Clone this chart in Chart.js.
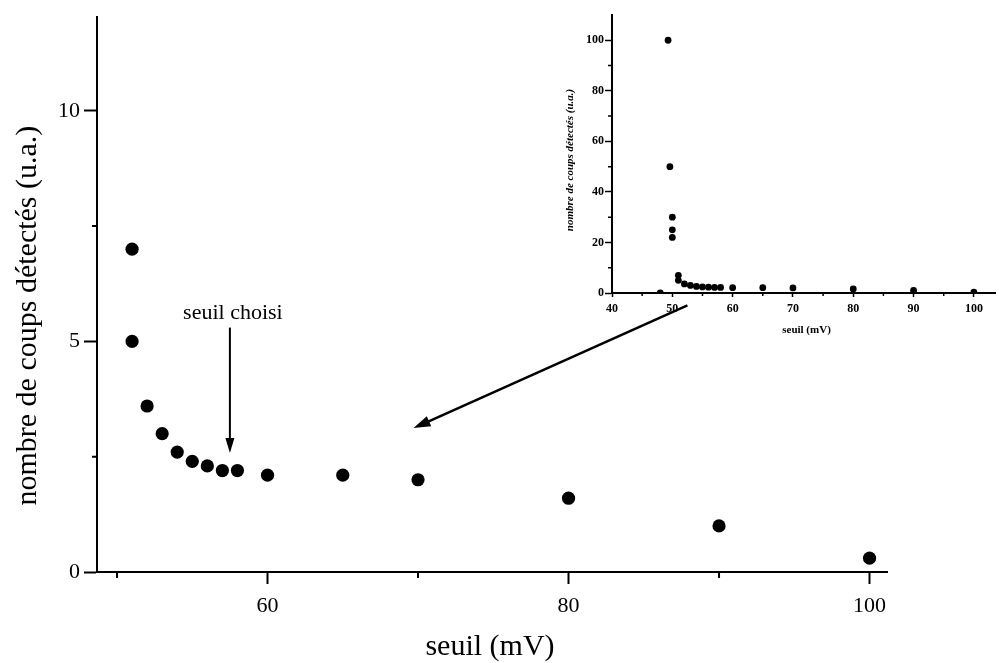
<!DOCTYPE html>
<html>
<head>
<meta charset="utf-8">
<script src="https://cdn.jsdelivr.net/npm/chart.js@4"></script>
<style>
  html, body { margin: 0; padding: 0; background: #fff; }
  #wrap { position: relative; width: 999px; height: 663px; }
  #main { position: absolute; left: 0; top: 0; }
  #inset { position: absolute; left: 560px; top: 0; }
</style>
</head>
<body>
<div id="wrap">
  <canvas id="main" width="999" height="663"></canvas>
  <canvas id="inset" width="439" height="345"></canvas>
</div>
<script>
// seuil (mV) / nombre de coups détectés (u.a.)
const seuil = [51, 51, 52, 53, 54, 55, 56, 57, 58, 60, 65, 70, 80, 90, 100];
const coups = [7, 5, 3.6, 3.0, 2.6, 2.4, 2.3, 2.2, 2.2, 2.1, 2.1, 2.0, 1.6, 1.0, 0.3];

// extra low-threshold points shown only in the inset
const seuilBas = [48, 49.3, 49.6, 50, 50, 50];
const coupsBas = [0, 100, 50, 30, 25, 22];

const xTicksMain = [60, 80, 100];
const xMinorMain = [50, 70, 90];
const yTicksMain = [0, 5, 10];
const yMinorMain = [2.5, 7.5];

const xTicksInset = [40, 50, 60, 70, 80, 90, 100];
const xMinorInset = [45, 55, 65, 75, 85, 95];
const yTicksInset = [0, 20, 40, 60, 80, 100];
const yMinorInset = [10, 30, 50, 70, 90];

const seuilChoisi = 57.5;

const SERIF = "'Liberation Serif', 'Times New Roman', serif";
Chart.defaults.font.family = SERIF;
Chart.defaults.color = '#000';

/* ---------- helpers ---------- */

function arrow(ctx, x1, y1, x2, y2, headLen, headW, lw) {
    const a = Math.atan2(y2 - y1, x2 - x1);
    ctx.save();
    ctx.strokeStyle = '#000';
    ctx.fillStyle = '#000';
    ctx.lineWidth = lw;
    ctx.beginPath();
    ctx.moveTo(x1, y1);
    ctx.lineTo(x2 - headLen * 0.8 * Math.cos(a), y2 - headLen * 0.8 * Math.sin(a));
    ctx.stroke();
    ctx.translate(x2, y2);
    ctx.rotate(a);
    ctx.beginPath();
    ctx.moveTo(0, 0);
    ctx.lineTo(-headLen, headW / 2);
    ctx.lineTo(-headLen, -headW / 2);
    ctx.closePath();
    ctx.fill();
    ctx.restore();
}

function minorTicks(chart, xs, ys, lenX, lenY, lw) {
    const ctx = chart.ctx;
    const sx = chart.scales.x, sy = chart.scales.y;
    const area = chart.chartArea;
    ctx.save();
    ctx.strokeStyle = '#000';
    ctx.lineWidth = lw;
    ctx.beginPath();
    xs.forEach(v => {
        const px = sx.getPixelForValue(v);
        ctx.moveTo(px, area.bottom);
        ctx.lineTo(px, area.bottom + lenX);
    });
    ys.forEach(v => {
        const py = sy.getPixelForValue(v);
        ctx.moveTo(area.left, py);
        ctx.lineTo(area.left - lenY, py);
    });
    ctx.stroke();
    ctx.restore();
}

function rotatedText(ctx, text, x, y, font) {
    ctx.save();
    ctx.translate(x, y);
    ctx.rotate(-Math.PI / 2);
    ctx.font = font;
    ctx.fillStyle = '#000';
    ctx.textAlign = 'center';
    ctx.textBaseline = 'middle';
    ctx.fillText(text, 0, 0);
    ctx.restore();
}

/* ---------- main chart ---------- */

const mainExtras = {
    id: 'mainExtras',
    afterDraw(chart) {
        const ctx = chart.ctx;
        const sx = chart.scales.x, sy = chart.scales.y;
        const area = chart.chartArea;

        minorTicks(chart, xMinorMain, yMinorMain, 6, 5, 2);

        // axis titles
        rotatedText(ctx, 'nombre de coups détectés (u.a.)',
            area.left - 69, (area.top + area.bottom) / 2 + 21, '30px ' + SERIF);
        ctx.save();
        ctx.font = '30px ' + SERIF;
        ctx.textAlign = 'center';
        ctx.textBaseline = 'middle';
        ctx.fillText('seuil (mV)', (area.left + area.right) / 2 - 2, area.bottom + 75);

        // "seuil choisi" annotation
        ctx.font = '22px ' + SERIF;
        ctx.fillText('seuil choisi', sx.getPixelForValue(seuilChoisi) + 3, sy.getPixelForValue(5.62));
        ctx.restore();
        arrow(ctx, sx.getPixelForValue(seuilChoisi), sy.getPixelForValue(5.3),
            sx.getPixelForValue(seuilChoisi), sy.getPixelForValue(2.58), 15, 9, 2);

        // arrow from the inset towards the plateau
        arrow(ctx, sx.getPixelForValue(87.9), sy.getPixelForValue(5.78),
            sx.getPixelForValue(69.7), sy.getPixelForValue(3.12), 17, 11, 2.5);
    }
};

new Chart(document.getElementById('main'), {
    type: 'scatter',
    data: {
        datasets: [{
            data: seuil.map((x, i) => ({ x: x, y: coups[i] })),
            backgroundColor: '#000',
            borderWidth: 0,
            pointRadius: 6.6
        }]
    },
    options: {
        responsive: false,
        animation: false,
        devicePixelRatio: 1,
        layout: { padding: { left: 0, top: 13, right: 112, bottom: 0 } },
        plugins: {
            legend: { display: false },
            tooltip: { enabled: false }
        },
        scales: {
            x: {
                type: 'linear',
                min: 48.67,
                max: 101.16,
                afterBuildTicks: s => { s.ticks = xTicksMain.map(v => ({ value: v })); },
                afterFit: s => { s.height = 91; },
                grid: { drawOnChartArea: false, tickLength: 12, tickColor: '#000', tickWidth: 2 },
                border: { color: '#000', width: 2 },
                ticks: { color: '#000', font: { size: 22 }, padding: 9, maxRotation: 0, autoSkip: false }
            },
            y: {
                type: 'linear',
                min: 0,
                max: 12.03,
                afterBuildTicks: s => { s.ticks = yTicksMain.map(v => ({ value: v })); },
                afterFit: s => { s.width = 97; },
                grid: { drawOnChartArea: false, tickLength: 13, tickColor: '#000', tickWidth: 2 },
                border: { color: '#000', width: 2 },
                ticks: { color: '#000', font: { size: 22 }, padding: 4, autoSkip: false }
            }
        }
    },
    plugins: [mainExtras]
});

/* ---------- inset ---------- */

const insetExtras = {
    id: 'insetExtras',
    afterDraw(chart) {
        const ctx = chart.ctx;
        const area = chart.chartArea;
        minorTicks(chart, xMinorInset, yMinorInset, 3, 4, 1.5);
        rotatedText(ctx, 'nombre de coups détectés (u.a.)',
            area.left - 42, (area.top + area.bottom) / 2 + 6, 'italic bold 11px ' + SERIF);
        ctx.save();
        ctx.font = 'bold 11px ' + SERIF;
        ctx.textAlign = 'center';
        ctx.textBaseline = 'middle';
        ctx.fillText('seuil (mV)', (area.left + area.right) / 2 + 3, area.bottom + 37);
        ctx.restore();
    }
};

const insetPts = seuilBas.map((x, i) => ({ x: x, y: coupsBas[i] }))
    .concat(seuil.map((x, i) => ({ x: x, y: coups[i] })));

new Chart(document.getElementById('inset'), {
    type: 'scatter',
    data: {
        datasets: [{
            data: insetPts,
            backgroundColor: '#000',
            borderWidth: 0,
            pointRadius: 3.4
        }]
    },
    options: {
        responsive: false,
        animation: false,
        devicePixelRatio: 1,
        layout: { padding: { left: 0, top: 15, right: 1, bottom: 0 } },
        plugins: {
            legend: { display: false },
            tooltip: { enabled: false }
        },
        scales: {
            x: {
                type: 'linear',
                min: 40,
                max: 103.5,
                afterBuildTicks: s => { s.ticks = xTicksInset.map(v => ({ value: v })); },
                afterFit: s => { s.height = 52; },
                grid: { drawOnChartArea: false, tickLength: 4, tickColor: '#000', tickWidth: 1.5 },
                border: { color: '#000', width: 2 },
                ticks: { color: '#000', font: { size: 12, weight: 'bold' }, padding: 5, maxRotation: 0, autoSkip: false }
            },
            y: {
                type: 'linear',
                min: 0,
                max: 110,
                afterBuildTicks: s => { s.ticks = yTicksInset.map(v => ({ value: v })); },
                afterFit: s => { s.width = 52; },
                grid: { drawOnChartArea: false, tickLength: 7, tickColor: '#000', tickWidth: 1.5 },
                border: { color: '#000', width: 2 },
                ticks: { color: '#000', font: { size: 12, weight: 'bold' }, padding: 1, autoSkip: false }
            }
        }
    },
    plugins: [insetExtras]
});
</script>
</body>
</html>
